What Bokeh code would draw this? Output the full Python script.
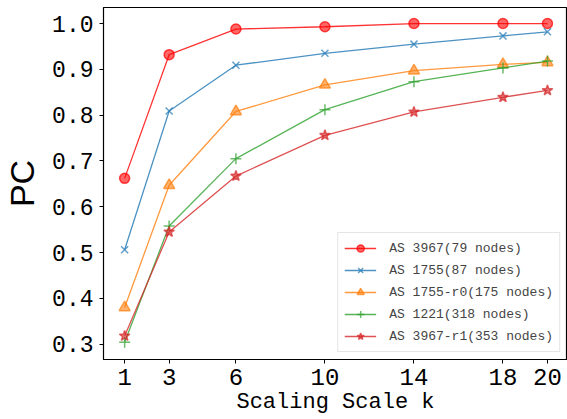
from bokeh.plotting import figure
from bokeh.models import FixedTicker, PrintfTickFormatter, Range1d, Legend
from bokeh.embed import file_html
from bokeh.resources import INLINE

k = [1, 3, 6, 10, 14, 18, 20]
as3967 = [0.662, 0.932, 0.988, 0.993, 1.0, 1.0, 1.0]
as1755 = [0.506, 0.809, 0.909, 0.935, 0.955, 0.973, 0.982]
as1755_r0 = [0.380, 0.647, 0.808, 0.866, 0.897, 0.911, 0.915]
as1221 = [0.304, 0.558, 0.705, 0.812, 0.873, 0.903, 0.918]
as3967_r1 = [0.318, 0.545, 0.667, 0.756, 0.807, 0.839, 0.854]

labels = ["AS 3967(79 nodes)", "AS 1755(87 nodes)", "AS 1755-r0(175 nodes)",
          "AS 1221(318 nodes)", "AS 3967-r1(353 nodes)"]
y_ticks = [0.3, 0.4, 0.5, 0.6, 0.7, 0.8, 0.9, 1.0]

series = [as3967, as1755, as1755_r0, as1221, as3967_r1]
colors = ["#ff0000", "#1f77b4", "#ff7f0e", "#2ca02c", "#d62728"]
markers = ["circle", "x", "triangle", "cross", "star"]
sizes = [10, 10, 11, 11, 11]

MONO = "Liberation Mono"

p = figure(width=567, height=419, output_backend="svg", toolbar_location=None,
           x_range=Range1d(0.05, 20.9), y_range=Range1d(0.2665, 1.035),
           min_border_left=97, min_border_top=7, min_border_bottom=60,
           min_border_right=0)

items = []
for ys, c, m, s, lab in zip(series, colors, markers, sizes, labels):
    r1 = p.line(k, ys, line_color=c, line_width=1.3, line_alpha=0.8)
    r2 = p.scatter(k, ys, marker=m, size=s, fill_color=c, line_color=c,
                   fill_alpha=0.6, line_alpha=0.7, line_width=1.5)
    items.append((lab, [r1, r2]))

legend = Legend(items=items, location="bottom_right")
legend.label_text_font = MONO
legend.label_text_font_size = "13px"
legend.glyph_width = 32
legend.glyph_height = 18
legend.label_height = 18
legend.spacing = 4
legend.padding = 6
legend.margin = 7
legend.label_standoff = 13
legend.border_line_color = "#cccccc"
legend.border_line_width = 1
legend.background_fill_alpha = 0.8
p.add_layout(legend)

p.xgrid.visible = False
p.ygrid.visible = False
p.outline_line_color = "black"
p.outline_line_width = 1.2

p.xaxis.ticker = FixedTicker(ticks=k)
p.yaxis.ticker = FixedTicker(ticks=y_ticks)
p.yaxis.formatter = PrintfTickFormatter(format="%.1f")

for ax in (p.xaxis[0], p.yaxis[0]):
    ax.major_tick_in = 0
    ax.major_tick_out = 4
    ax.minor_tick_line_color = None
    ax.axis_line_color = "black"
    ax.major_tick_line_color = "black"
    ax.major_label_text_font = MONO
    ax.major_label_text_color = "black"
    ax.axis_label_text_font_style = "normal"
    ax.axis_label_text_color = "black"

p.yaxis.major_label_text_font_size = "23px"
p.xaxis.major_label_text_font_size = "24px"
p.yaxis.major_label_standoff = 6
p.xaxis.major_label_standoff = 5

p.xaxis.axis_label = "Scaling Scale k"
p.xaxis.axis_label_text_font = MONO
p.xaxis.axis_label_text_font_size = "22px"
p.xaxis.axis_label_standoff = 2

p.yaxis.axis_label = "PC"
p.yaxis.axis_label_text_font = "Liberation Sans"
p.yaxis.axis_label_text_font_size = "34px"
p.yaxis.axis_label_standoff = 8

open("out.html", "w").write(file_html(p, INLINE))
